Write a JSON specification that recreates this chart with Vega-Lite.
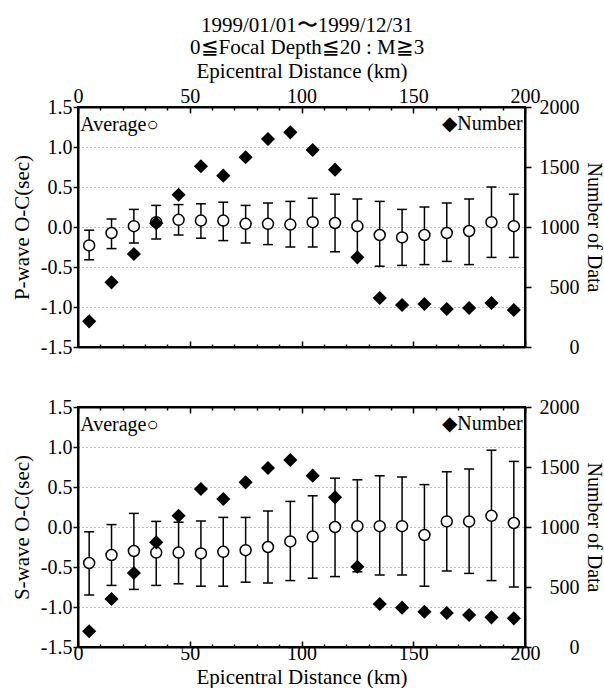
{
  "$schema": "https://vega.github.io/schema/vega-lite/v6.json",
  "background": "white",
  "padding": {"top": 15, "left": 10, "right": 0, "bottom": 0},
  "title": {
    "text": ["1999/01/01〜1999/12/31", "0≦Focal Depth≦20 : M≧3"],
    "font": "Liberation Serif",
    "fontSize": 21,
    "fontWeight": "normal",
    "lineHeight": 22,
    "color": "black",
    "anchor": "middle",
    "offset": 1
  },
  "datasets": {
    "p": [
      {"d": 5, "avg": -0.23, "lo": -0.41, "hi": -0.04, "n": 214},
      {"d": 15, "avg": -0.075, "lo": -0.27, "hi": 0.10, "n": 539},
      {"d": 25, "avg": 0.01, "lo": -0.20, "hi": 0.22, "n": 775},
      {"d": 35, "avg": 0.06, "lo": -0.15, "hi": 0.27, "n": 1031},
      {"d": 45, "avg": 0.09, "lo": -0.10, "hi": 0.28, "n": 1269},
      {"d": 55, "avg": 0.08, "lo": -0.14, "hi": 0.29, "n": 1506},
      {"d": 65, "avg": 0.08, "lo": -0.17, "hi": 0.31, "n": 1428},
      {"d": 75, "avg": 0.04, "lo": -0.20, "hi": 0.27, "n": 1581},
      {"d": 85, "avg": 0.04, "lo": -0.22, "hi": 0.30, "n": 1733},
      {"d": 95, "avg": 0.03, "lo": -0.25, "hi": 0.32, "n": 1789},
      {"d": 105, "avg": 0.06, "lo": -0.25, "hi": 0.36, "n": 1642},
      {"d": 115, "avg": 0.05, "lo": -0.31, "hi": 0.41, "n": 1478},
      {"d": 125, "avg": 0.01, "lo": -0.39, "hi": 0.35, "n": 747},
      {"d": 135, "avg": -0.10, "lo": -0.49, "hi": 0.32, "n": 408},
      {"d": 145, "avg": -0.13, "lo": -0.48, "hi": 0.22, "n": 350},
      {"d": 155, "avg": -0.10, "lo": -0.47, "hi": 0.25, "n": 358},
      {"d": 165, "avg": -0.075, "lo": -0.43, "hi": 0.30, "n": 317},
      {"d": 175, "avg": -0.05, "lo": -0.47, "hi": 0.35, "n": 325},
      {"d": 185, "avg": 0.06, "lo": -0.38, "hi": 0.50, "n": 367},
      {"d": 195, "avg": 0.01, "lo": -0.38, "hi": 0.41, "n": 308}
    ],
    "s": [
      {"d": 5, "avg": -0.45, "lo": -0.85, "hi": -0.06, "n": 131},
      {"d": 15, "avg": -0.35, "lo": -0.73, "hi": 0.03, "n": 400},
      {"d": 25, "avg": -0.30, "lo": -0.78, "hi": 0.17, "n": 617},
      {"d": 35, "avg": -0.32, "lo": -0.73, "hi": 0.07, "n": 872},
      {"d": 45, "avg": -0.32, "lo": -0.71, "hi": 0.06, "n": 1094},
      {"d": 55, "avg": -0.33, "lo": -0.74, "hi": 0.075, "n": 1317},
      {"d": 65, "avg": -0.31, "lo": -0.74, "hi": 0.12, "n": 1233},
      {"d": 75, "avg": -0.29, "lo": -0.69, "hi": 0.12, "n": 1372},
      {"d": 85, "avg": -0.25, "lo": -0.70, "hi": 0.20, "n": 1492},
      {"d": 95, "avg": -0.18, "lo": -0.67, "hi": 0.32, "n": 1558},
      {"d": 105, "avg": -0.12, "lo": -0.64, "hi": 0.39, "n": 1428},
      {"d": 115, "avg": 0.00, "lo": -0.62, "hi": 0.61, "n": 1247},
      {"d": 125, "avg": 0.01, "lo": -0.56, "hi": 0.59, "n": 669},
      {"d": 135, "avg": 0.01, "lo": -0.60, "hi": 0.64, "n": 358},
      {"d": 145, "avg": 0.01, "lo": -0.60, "hi": 0.625, "n": 328},
      {"d": 155, "avg": -0.10, "lo": -0.74, "hi": 0.53, "n": 294},
      {"d": 165, "avg": 0.07, "lo": -0.55, "hi": 0.69, "n": 283},
      {"d": 175, "avg": 0.07, "lo": -0.58, "hi": 0.725, "n": 267},
      {"d": 185, "avg": 0.14, "lo": -0.67, "hi": 0.96, "n": 247},
      {"d": 195, "avg": 0.05, "lo": -0.75, "hi": 0.82, "n": 239}
    ],
    "legL": [{"d": 1, "v": 1.28, "label": "Average○"}],
    "legR": [{"d": 199, "v": 1.29, "label": "◆Number"}]
  },
  "config": {
    "view": {"stroke": "black", "strokeWidth": 2},
    "font": "Liberation Serif",
    "axis": {
      "labelFont": "Liberation Serif",
      "titleFont": "Liberation Serif",
      "labelFontSize": 20,
      "titleFontSize": 21,
      "titleFontWeight": "normal",
      "labelColor": "black",
      "titleColor": "black",
      "domainColor": "black",
      "domainWidth": 2,
      "tickColor": "black",
      "tickWidth": 1.5,
      "grid": false,
      "labelFlush": false,
      "labelOverlap": false
    }
  },
  "spacing": 38,
  "vconcat": [
    {
      "width": 447,
      "height": 240,
      "data": {"name": "p"},
      "layer": [
        {
          "mark": {"type": "rule", "color": "black", "strokeWidth": 1.5},
          "encoding": {
            "x": {"field": "d", "type": "quantitative", "scale": {"domain": [0, 200], "nice": false},
              "axis": {"orient": "top", "title": "Epicentral Distance (km)", "values": [0,10,20,30,40,50,60,70,80,90,100,110,120,130,140,150,160,170,180,190,200],
                "labelExpr": "datum.value % 50 === 0 ? datum.label : ''",
                "tickSize": {"condition": {"test": "datum.value % 50 === 0", "value": -6}, "value": -3},
                "labelPadding": 7, "titlePadding": 2}},
            "y": {"field": "lo", "type": "quantitative", "scale": {"domain": [-1.5, 1.5], "nice": false},
              "axis": {"orient": "left", "title": "P-wave O-C(sec)", "values": [-1.5,-1,-0.5,0,0.5,1,1.5],
                "labelExpr": "replace(format(datum.value, '.1f'), '\u2212', '-')",
                "grid": true, "gridDash": [1, 3], "gridColor": "#777777", "gridWidth": 1,
                "tickSize": 5, "labelPadding": 1, "titlePadding": 8}},
            "y2": {"field": "hi"}
          }
        },
        {
          "mark": {"type": "tick", "orient": "horizontal", "size": 10, "thickness": 1.5, "color": "black", "opacity": 1},
          "encoding": {
            "x": {"field": "d", "type": "quantitative",
              "axis": {"orient": "bottom", "title": null, "labels": false, "values": [0,10,20,30,40,50,60,70,80,90,100,110,120,130,140,150,160,170,180,190,200],
                "tickSize": {"condition": {"test": "datum.value % 50 === 0", "value": -6}, "value": -3}}},
            "y": {"field": "lo", "type": "quantitative", "scale": {"domain": [-1.5, 1.5], "nice": false}, "axis": null}
          }
        },
        {
          "mark": {"type": "tick", "orient": "horizontal", "size": 10, "thickness": 1.5, "color": "black", "opacity": 1},
          "encoding": {
            "x": {"field": "d", "type": "quantitative", "axis": null},
            "y": {"field": "hi", "type": "quantitative", "scale": {"domain": [-1.5, 1.5], "nice": false}, "axis": null}
          }
        },
        {
          "mark": {"type": "point", "shape": "circle", "filled": true, "fill": "white", "stroke": "black", "strokeWidth": 1.5, "size": 120, "opacity": 1},
          "encoding": {
            "x": {"field": "d", "type": "quantitative", "axis": null},
            "y": {"field": "avg", "type": "quantitative", "scale": {"domain": [-1.5, 1.5], "nice": false}, "axis": null}
          }
        },
        {
          "data": {"name": "legL"},
          "mark": {"type": "text", "align": "left", "baseline": "middle", "font": "Liberation Serif", "fontSize": 20, "color": "black"},
          "encoding": {
            "x": {"field": "d", "type": "quantitative", "axis": null},
            "y": {"field": "v", "type": "quantitative", "scale": {"domain": [-1.5, 1.5], "nice": false}, "axis": null},
            "text": {"field": "label"}
          }
        },
        {
          "data": {"name": "legR"},
          "mark": {"type": "text", "align": "right", "baseline": "middle", "font": "Liberation Serif", "fontSize": 20, "color": "black"},
          "encoding": {
            "x": {"field": "d", "type": "quantitative", "axis": null},
            "y": {"field": "v", "type": "quantitative", "scale": {"domain": [-1.5, 1.5], "nice": false}, "axis": null},
            "text": {"field": "label"}
          }
        },
        {
          "mark": {"type": "point", "shape": "diamond", "filled": true, "color": "black", "size": 200, "opacity": 1},
          "encoding": {
            "x": {"field": "d", "type": "quantitative", "axis": null},
            "y": {"field": "n", "type": "quantitative", "scale": {"domain": [0, 2000], "nice": false},
              "axis": {"orient": "right", "title": "Number of Data", "titleFontSize": 20, "format": "d", "values": [0, 500, 1000, 1500, 2000],
                "tickSize": 6, "labelAlign": "right", "labelPadding": 48, "titlePadding": 4}}
          }
        }
      ],
      "resolve": {"scale": {"y": "independent"}}
    },
    {
      "width": 447,
      "height": 240,
      "data": {"name": "s"},
      "layer": [
        {
          "mark": {"type": "rule", "color": "black", "strokeWidth": 1.5},
          "encoding": {
            "x": {"field": "d", "type": "quantitative", "scale": {"domain": [0, 200], "nice": false},
              "axis": {"orient": "bottom", "title": "Epicentral Distance (km)", "values": [0,10,20,30,40,50,60,70,80,90,100,110,120,130,140,150,160,170,180,190,200],
                "labelExpr": "datum.value % 50 === 0 ? datum.label : ''",
                "tickSize": {"condition": {"test": "datum.value % 50 === 0", "value": -6}, "value": -3},
                "labelPadding": 2, "titlePadding": 0}},
            "y": {"field": "lo", "type": "quantitative", "scale": {"domain": [-1.5, 1.5], "nice": false},
              "axis": {"orient": "left", "title": "S-wave O-C(sec)", "values": [-1.5,-1,-0.5,0,0.5,1,1.5],
                "labelExpr": "replace(format(datum.value, '.1f'), '\u2212', '-')",
                "grid": true, "gridDash": [1, 3], "gridColor": "#777777", "gridWidth": 1,
                "tickSize": 5, "labelPadding": 1, "titlePadding": 8}},
            "y2": {"field": "hi"}
          }
        },
        {
          "mark": {"type": "tick", "orient": "horizontal", "size": 10, "thickness": 1.5, "color": "black", "opacity": 1},
          "encoding": {
            "x": {"field": "d", "type": "quantitative",
              "axis": {"orient": "top", "title": null, "labels": false, "values": [0,10,20,30,40,50,60,70,80,90,100,110,120,130,140,150,160,170,180,190,200],
                "tickSize": {"condition": {"test": "datum.value % 50 === 0", "value": -6}, "value": -3}}},
            "y": {"field": "lo", "type": "quantitative", "scale": {"domain": [-1.5, 1.5], "nice": false}, "axis": null}
          }
        },
        {
          "mark": {"type": "tick", "orient": "horizontal", "size": 10, "thickness": 1.5, "color": "black", "opacity": 1},
          "encoding": {
            "x": {"field": "d", "type": "quantitative", "axis": null},
            "y": {"field": "hi", "type": "quantitative", "scale": {"domain": [-1.5, 1.5], "nice": false}, "axis": null}
          }
        },
        {
          "mark": {"type": "point", "shape": "circle", "filled": true, "fill": "white", "stroke": "black", "strokeWidth": 1.5, "size": 120, "opacity": 1},
          "encoding": {
            "x": {"field": "d", "type": "quantitative", "axis": null},
            "y": {"field": "avg", "type": "quantitative", "scale": {"domain": [-1.5, 1.5], "nice": false}, "axis": null}
          }
        },
        {
          "data": {"name": "legL"},
          "mark": {"type": "text", "align": "left", "baseline": "middle", "font": "Liberation Serif", "fontSize": 20, "color": "black"},
          "encoding": {
            "x": {"field": "d", "type": "quantitative", "axis": null},
            "y": {"field": "v", "type": "quantitative", "scale": {"domain": [-1.5, 1.5], "nice": false}, "axis": null},
            "text": {"field": "label"}
          }
        },
        {
          "data": {"name": "legR"},
          "mark": {"type": "text", "align": "right", "baseline": "middle", "font": "Liberation Serif", "fontSize": 20, "color": "black"},
          "encoding": {
            "x": {"field": "d", "type": "quantitative", "axis": null},
            "y": {"field": "v", "type": "quantitative", "scale": {"domain": [-1.5, 1.5], "nice": false}, "axis": null},
            "text": {"field": "label"}
          }
        },
        {
          "mark": {"type": "point", "shape": "diamond", "filled": true, "color": "black", "size": 200, "opacity": 1},
          "encoding": {
            "x": {"field": "d", "type": "quantitative", "axis": null},
            "y": {"field": "n", "type": "quantitative", "scale": {"domain": [0, 2000], "nice": false},
              "axis": {"orient": "right", "title": "Number of Data", "titleFontSize": 20, "format": "d", "values": [0, 500, 1000, 1500, 2000],
                "tickSize": 6, "labelAlign": "right", "labelPadding": 48, "titlePadding": 4}}
          }
        }
      ],
      "resolve": {"scale": {"y": "independent"}}
    }
  ]
}
